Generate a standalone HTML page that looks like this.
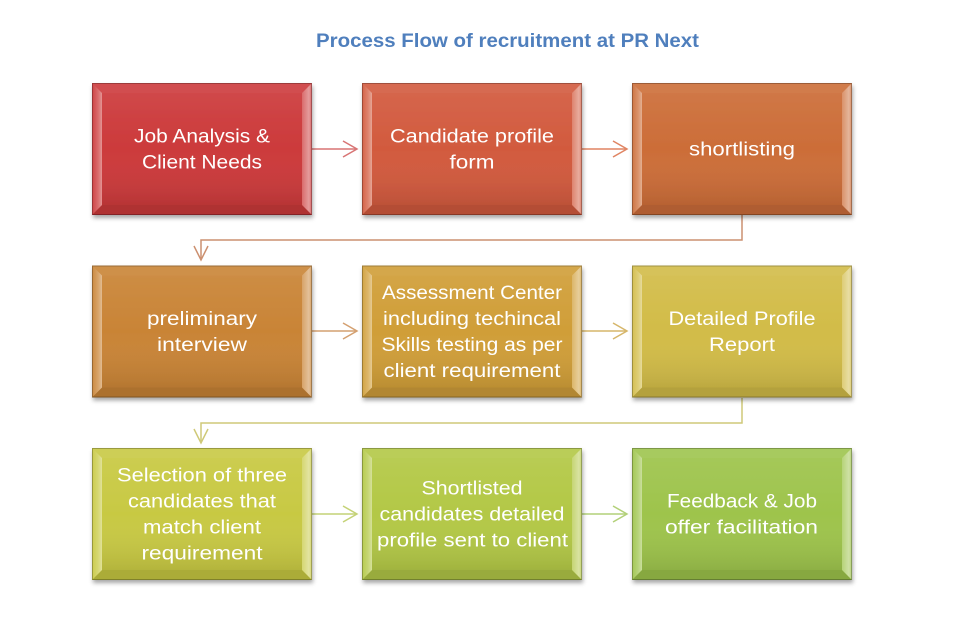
<!DOCTYPE html>
<html>
<head>
<meta charset="utf-8">
<style>
html,body{margin:0;padding:0;background:#fff;}
svg{display:block;}
text{font-family:"Liberation Sans",sans-serif;}
</style>
</head>
<body>
<svg width="956" height="624" viewBox="0 0 956 624" xmlns="http://www.w3.org/2000/svg">
<defs>
  <filter id="sh" x="-10%" y="-10%" width="130%" height="140%">
    <feDropShadow dx="1" dy="3" stdDeviation="2.2" flood-color="#000" flood-opacity="0.35"/>
  </filter>
  <linearGradient id="lft" x1="0" y1="0" x2="1" y2="0">
    <stop offset="0" stop-color="#fff" stop-opacity="0.05"/>
    <stop offset="0.6" stop-color="#fff" stop-opacity="0.25"/>
    <stop offset="1" stop-color="#fff" stop-opacity="0.45"/>
  </linearGradient>
  <linearGradient id="rgt" x1="0" y1="0" x2="1" y2="0">
    <stop offset="0" stop-color="#fff" stop-opacity="0.25"/>
    <stop offset="0.7" stop-color="#fff" stop-opacity="0.5"/>
    <stop offset="1" stop-color="#fff" stop-opacity="0.2"/>
  </linearGradient>
  <linearGradient id="inn" x1="0" y1="0" x2="0" y2="1">
    <stop offset="0" stop-color="#fff" stop-opacity="0.07"/>
    <stop offset="0.5" stop-color="#fff" stop-opacity="0"/>
    <stop offset="1" stop-color="#000" stop-opacity="0.1"/>
  </linearGradient>
  <g id="bev">
    <polygon points="0,0 220,0 210,10 10,10" fill="#fff" fill-opacity="0.1"/>
    <polygon points="0,132 220,132 210,122 10,122" fill="#000" fill-opacity="0.14"/>
    <polygon points="0,0 10,10 10,122 0,132" fill="url(#lft)"/>
    <polygon points="220,0 210,10 210,122 220,132" fill="url(#rgt)"/>
    <rect x="10" y="10" width="200" height="112" fill="url(#inn)"/>
    <rect x="0.5" y="0.5" width="219" height="131" fill="none" stroke="#000" stroke-opacity="0.25" stroke-width="1"/>
  </g>
</defs>

<text x="507.5" y="47" text-anchor="middle" font-size="19" font-weight="bold" fill="#4f7fbd" textLength="383" lengthAdjust="spacingAndGlyphs">Process Flow of recruitment at PR Next</text>

<!-- connectors -->
<g fill="none" stroke-width="1.5" stroke-linejoin="miter">
  <path d="M312 149 H356" stroke="#d87474"/>
  <path d="M343 141 L357 149 L343 157" stroke="#d87474"/>
  <path d="M582 149 H626" stroke="#e08462"/>
  <path d="M613 141 L627 149 L613 157" stroke="#e08462"/>
  <path d="M742 215 V240 H201 V259" stroke="#cc9070"/>
  <path d="M194 246 L201 260 L208 246" stroke="#cc9070"/>
  <path d="M312 331 H356" stroke="#d4a070"/>
  <path d="M343 323 L357 331 L343 339" stroke="#d4a070"/>
  <path d="M582 331 H626" stroke="#d6b66a"/>
  <path d="M613 323 L627 331 L613 339" stroke="#d6b66a"/>
  <path d="M742 398 V423 H201 V442" stroke="#cfc978"/>
  <path d="M194 429 L201 443 L208 429" stroke="#cfc978"/>
  <path d="M312 514 H356" stroke="#c4d276"/>
  <path d="M343 506 L357 514 L343 522" stroke="#c4d276"/>
  <path d="M582 514 H626" stroke="#b2d078"/>
  <path d="M613 506 L627 514 L613 522" stroke="#b2d078"/>
</g>

<!-- boxes -->
<g filter="url(#sh)">
  <g transform="translate(92,83)"><rect width="220" height="132" fill="#cc3a3b"/><use href="#bev"/></g>
  <g transform="translate(362,83)"><rect width="220" height="132" fill="#d25a3e"/><use href="#bev"/></g>
  <g transform="translate(632,83)"><rect width="220" height="132" fill="#cc6d38"/><use href="#bev"/></g>
  <g transform="translate(92,265.5)"><rect width="220" height="132" fill="#c98436"/><use href="#bev"/></g>
  <g transform="translate(362,265.5)"><rect width="220" height="132" fill="#d09e38"/><use href="#bev"/></g>
  <g transform="translate(632,265.5)"><rect width="220" height="132" fill="#d2bc48"/><use href="#bev"/></g>
  <g transform="translate(92,448)"><rect width="220" height="132" fill="#c8c943"/><use href="#bev"/></g>
  <g transform="translate(362,448)"><rect width="220" height="132" fill="#b3c846"/><use href="#bev"/></g>
  <g transform="translate(632,448)"><rect width="220" height="132" fill="#9ec44c"/><use href="#bev"/></g>
</g>

<!-- labels -->
<g fill="#fff" font-size="19" text-anchor="middle">
  <text x="202" y="142.5" textLength="136" lengthAdjust="spacingAndGlyphs">Job Analysis &amp;</text>
  <text x="202" y="168.5" textLength="120" lengthAdjust="spacingAndGlyphs">Client Needs</text>

  <text x="472" y="142.5" textLength="164" lengthAdjust="spacingAndGlyphs">Candidate profile</text>
  <text x="472" y="168.5" textLength="45" lengthAdjust="spacingAndGlyphs">form</text>

  <text x="742" y="155.5" textLength="106" lengthAdjust="spacingAndGlyphs">shortlisting</text>

  <text x="202" y="325" textLength="110" lengthAdjust="spacingAndGlyphs">preliminary</text>
  <text x="202" y="351" textLength="90" lengthAdjust="spacingAndGlyphs">interview</text>

  <text x="472" y="299" textLength="180" lengthAdjust="spacingAndGlyphs">Assessment Center</text>
  <text x="472" y="325" textLength="178" lengthAdjust="spacingAndGlyphs">including techincal</text>
  <text x="472" y="351" textLength="181" lengthAdjust="spacingAndGlyphs">Skills testing as per</text>
  <text x="472" y="377" textLength="177" lengthAdjust="spacingAndGlyphs">client requirement</text>

  <text x="742" y="325" textLength="147" lengthAdjust="spacingAndGlyphs">Detailed Profile</text>
  <text x="742" y="351" textLength="66" lengthAdjust="spacingAndGlyphs">Report</text>

  <text x="202" y="481.5" textLength="170" lengthAdjust="spacingAndGlyphs">Selection of three</text>
  <text x="202" y="507.5" textLength="148" lengthAdjust="spacingAndGlyphs">candidates that</text>
  <text x="202" y="533.5" textLength="118" lengthAdjust="spacingAndGlyphs">match client</text>
  <text x="202" y="559.5" textLength="121" lengthAdjust="spacingAndGlyphs">requirement</text>

  <text x="472" y="494.5" textLength="101" lengthAdjust="spacingAndGlyphs">Shortlisted</text>
  <text x="472" y="520.5" textLength="185" lengthAdjust="spacingAndGlyphs">candidates detailed</text>
  <text x="472.5" y="546.5" textLength="191" lengthAdjust="spacingAndGlyphs">profile sent to client</text>

  <text x="742" y="507.5" textLength="150" lengthAdjust="spacingAndGlyphs">Feedback &amp; Job</text>
  <text x="741.5" y="533.5" textLength="153" lengthAdjust="spacingAndGlyphs">offer facilitation</text>
</g>
</svg>
</body>
</html>
